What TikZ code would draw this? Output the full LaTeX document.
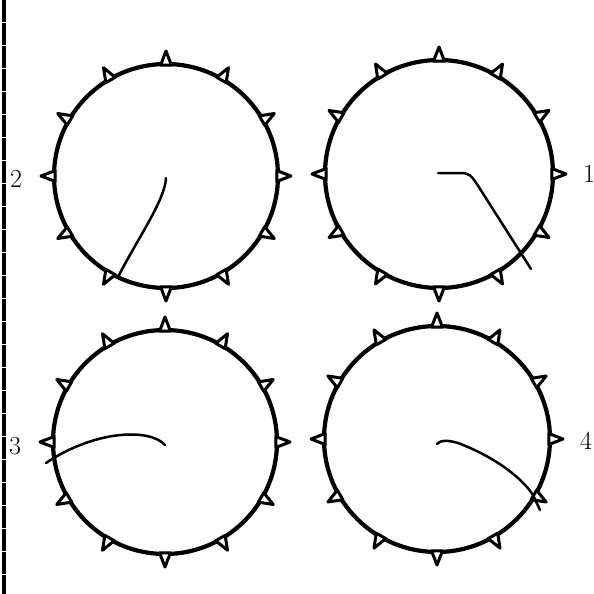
\documentclass[tikz,border=0pt]{standalone}
\usetikzlibrary{calc}
\begin{document}
\begin{tikzpicture}[x=1pt,y=-1pt,
  ring/.style={circle,draw=black,line width=4.2pt,inner sep=0pt},
  tick/.style={draw=black,line width=3pt,line join=round,fill=white},
  wire/.style={draw=black,line width=2.5pt,line cap=round},
  num/.style={font=\fontsize{26}{28}\selectfont,inner sep=0pt}]
\useasboundingbox (0,0) rectangle (594,594);
% left border
\draw[line width=4pt,dash pattern=on 22pt off 1pt] (4,0) -- (4,594);
% circles
\node[ring,minimum size=224pt] (c2) at (166,176) {};
\node[ring,minimum size=228pt] (c1) at (439,174) {};
\node[ring,minimum size=224pt] (c3) at (165,442) {};
\node[ring,minimum size=226pt] (c4) at (437,439) {};
% ticks
\foreach \cx/\cy/\r in {166/176/112,439/174/114,165/442/112,437/439/113}{
  \foreach \a in {0,30,...,330}{
    \draw[tick] ($(\cx,\cy)+(\a+2.8:\r-1)$) -- ($(\cx,\cy)+(\a:\r+13)$) -- ($(\cx,\cy)+(\a-2.8:\r-1)$) -- cycle;
  }
}
% wire endpoints
\coordinate (s2) at (166,178);
\coordinate (e2) at (118,277);
\coordinate (s1) at (438,173);
\coordinate (e1) at (531,269);
\coordinate (s3) at (165,445);
\coordinate (e3) at (46,463);
\coordinate (s4) at (437,444);
\coordinate (e4) at (540,510);
% wires
\draw[wire] (s2) .. controls (165,200) and (138,238) .. (e2);
\draw[wire] (s1) -- (458,173) .. controls (470,173) .. (482,192) -- (e1);
\draw[wire] (s3) .. controls (150,428) and (95,430) .. (e3);
\draw[wire] (s4) .. controls (440,440) and (448,440) .. (458,443) .. controls (490,455) and (520,475) .. (533,495) -- (e4);
% labels
\node[num] (l2) at (16,179) {2};
\node[num] (l1) at (589,174) {1};
\node[num] (l3) at (15,446) {3};
\node[num] (l4) at (586,441) {4};
\end{tikzpicture}
\end{document}
